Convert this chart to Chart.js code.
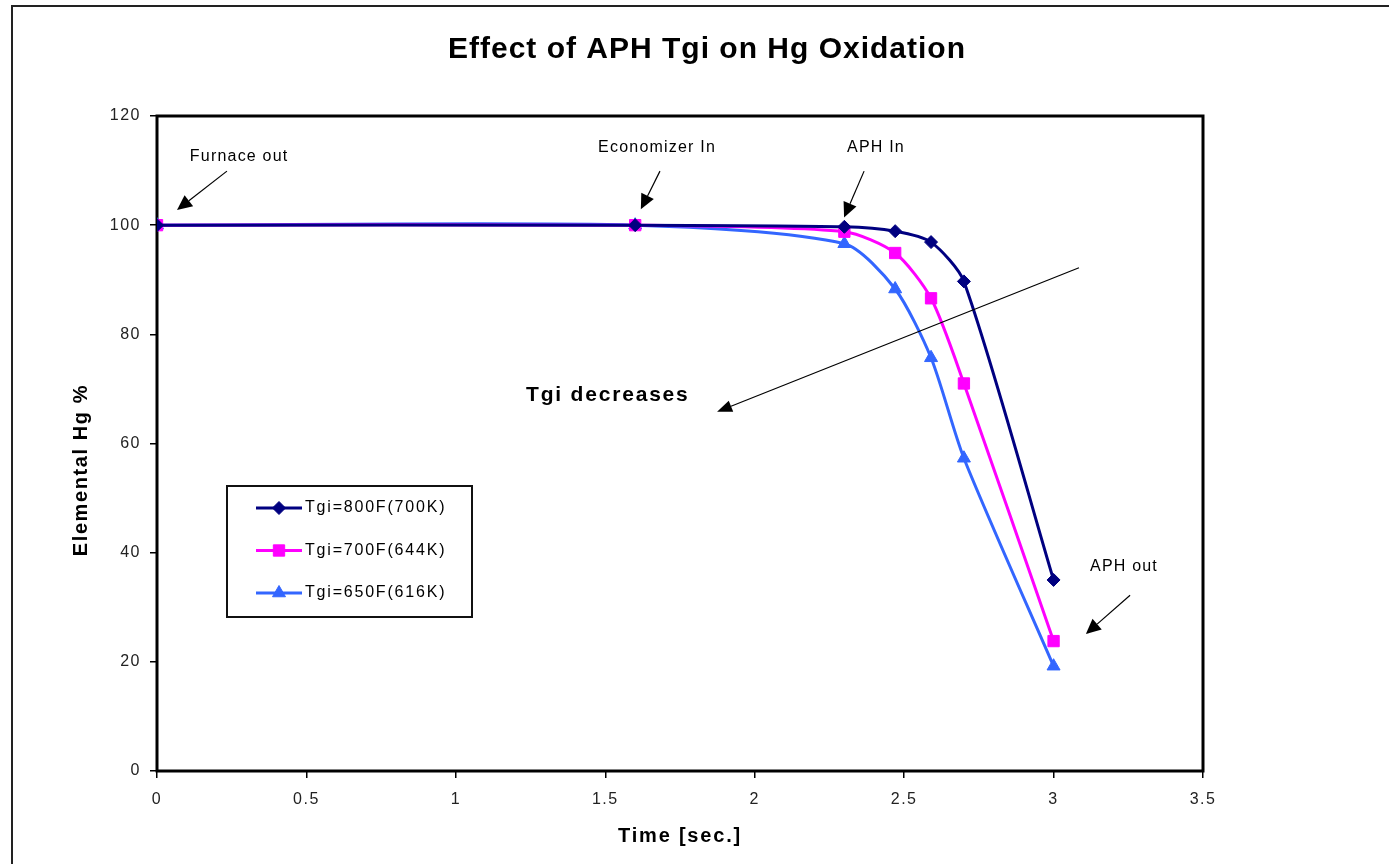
<!DOCTYPE html>
<html>
<head>
<meta charset="utf-8">
<title>Effect of APH Tgi on Hg Oxidation</title>
<script src="https://cdn.jsdelivr.net/npm/chart.js@4.4.1/dist/chart.umd.min.js"></script>
<style>
  body { margin: 0; background: #fff; }
  canvas { display: block; }
</style>
</head>
<body>
<canvas id="myChart" width="1389" height="864"></canvas>
<script>
// datos
const tiempos = [0, 1.6, 2.3, 2.47, 2.59, 2.7, 3.0];
const tgi800 = [100, 100, 99.7, 98.9, 96.9, 89.7, 35.0];
const tgi700 = [100, 100, 98.8, 94.9, 86.6, 71.0, 23.8];
const tgi650 = [100, 100, 96.6, 88.3, 75.7, 57.3, 19.2];
const nombres = ["Tgi=800F(700K)", "Tgi=700F(644K)", "Tgi=650F(616K)"];
const xTicks = [0, 0.5, 1, 1.5, 2, 2.5, 3, 3.5];
const yTicks = [0, 20, 40, 60, 80, 100, 120];

const FONT = "'Liberation Sans', Arial, sans-serif";

// notas con flecha (unidades de datos)
const notas = [
  { text: "Furnace out", x: 0.11, y: 112.5, from: [0.234, 109.9], to: [0.067, 102.8] },
  { text: "Economizer In", x: 1.476, y: 114.3, from: [1.683, 109.9], to: [1.619, 102.9] },
  { text: "APH In", x: 2.309, y: 114.3, from: [2.366, 109.9], to: [2.299, 101.4] },
  { text: "APH out", x: 3.122, y: 37.4, from: [3.256, 32.2], to: [3.108, 25.1] },
];

const toXY = (ys) => tiempos.map((t, i) => ({ x: t, y: ys[i] }));

const serie = (label, ys, color, style, radius) => ({
  label,
  data: toXY(ys),
  borderColor: color,
  backgroundColor: color,
  borderWidth: 3,
  pointStyle: style,
  pointRadius: radius,
  pointBorderWidth: 1,
  pointBackgroundColor: color,
  pointBorderColor: color,
  tension: 0.25,
});

const data = {
  datasets: [
    serie(nombres[0], tgi800, "#000080", "rectRot", 6.5),
    serie(nombres[1], tgi700, "#FF00FF", "rect", 8),
    serie(nombres[2], tgi650, "#3366FF", "triangle", 7.5),
  ],
};

const texto = (ctx, str, x, y, font, align, spacing) => {
  ctx.save();
  ctx.font = font;
  ctx.letterSpacing = spacing || "0px";
  ctx.fillStyle = "#000";
  ctx.textAlign = align || "left";
  ctx.textBaseline = "middle";
  ctx.fillText(str, x, y);
  ctx.restore();
};

const flecha = (ctx, x1, y1, x2, y2, len, half) => {
  const ang = Math.atan2(y2 - y1, x2 - x1);
  const bx = x2 - Math.cos(ang) * len;
  const by = y2 - Math.sin(ang) * len;
  ctx.save();
  ctx.strokeStyle = "#000";
  ctx.fillStyle = "#000";
  ctx.lineWidth = 1.2;
  ctx.beginPath();
  ctx.moveTo(x1, y1);
  ctx.lineTo(bx, by);
  ctx.stroke();
  ctx.beginPath();
  ctx.moveTo(x2, y2);
  ctx.lineTo(bx + Math.sin(ang) * half, by - Math.cos(ang) * half);
  ctx.lineTo(bx - Math.sin(ang) * half, by + Math.cos(ang) * half);
  ctx.closePath();
  ctx.fill();
  ctx.restore();
};

const extras = {
  id: "extras",
  beforeDraw(chart) {
    const ctx = chart.ctx;
    ctx.letterSpacing = "1.5px";
    // marco exterior
    ctx.save();
    ctx.strokeStyle = "#222";
    ctx.lineWidth = 2;
    ctx.strokeRect(12, 6, 1500, 1000);
    ctx.restore();
  },
  beforeDatasetsDraw(chart) {
    const { ctx, chartArea: ca } = chart;
    ctx.save();
    ctx.strokeStyle = "#000";
    ctx.lineWidth = 3;
    ctx.strokeRect(ca.left, ca.top, ca.width, ca.height);
    ctx.restore();
  },
  afterDraw(chart) {
    const { ctx, chartArea: ca, scales } = chart;
    const px = (v) => scales.x.getPixelForValue(v);
    const py = (v) => scales.y.getPixelForValue(v);

    texto(ctx, "Effect of APH Tgi on Hg Oxidation", 707, 50, "bold 30px " + FONT, "center", "1px");
    texto(ctx, "Time [sec.]", (ca.left + ca.right) / 2, 836, "bold 20px " + FONT, "center", "1.8px");

    ctx.save();
    ctx.translate(81, 470);
    ctx.rotate(-Math.PI / 2);
    texto(ctx, "Elemental Hg %", 0, 0, "bold 20px " + FONT, "center", "1.6px");
    ctx.restore();

    notas.forEach((n) => {
      texto(ctx, n.text, px(n.x), py(n.y), "16px " + FONT, "left", "1.2px");
      flecha(ctx, px(n.from[0]), py(n.from[1]), px(n.to[0]), py(n.to[1]), 15, 7);
    });

    texto(ctx, "Tgi decreases", px(1.235), py(68.9), "bold 21px " + FONT, "left", "1.8px");
    flecha(ctx, px(3.085), py(92.2), px(1.874), py(65.8), 15, 6);

    // leyenda
    ctx.save();
    ctx.fillStyle = "#fff";
    ctx.fillRect(227, 486, 245, 131);
    ctx.strokeStyle = "#111";
    ctx.lineWidth = 2;
    ctx.strokeRect(227, 486, 245, 131);
    ctx.restore();
    chart.data.datasets.forEach((ds, i) => {
      const y = 508 + i * 42.5;
      ctx.save();
      ctx.strokeStyle = ds.borderColor;
      ctx.lineWidth = 3;
      ctx.beginPath();
      ctx.moveTo(256, y);
      ctx.lineTo(302, y);
      ctx.stroke();
      ctx.fillStyle = ds.backgroundColor;
      ctx.strokeStyle = ds.borderColor;
      ctx.lineWidth = 1;
      Chart.helpers.drawPoint(ctx, { pointStyle: ds.pointStyle, radius: ds.pointRadius, rotation: 0, borderWidth: 1 }, 279, y);
      ctx.restore();
      texto(ctx, ds.label, 305, y, "16px " + FONT, "left", "1.8px");
    });
  },
};

const config = {
  type: "line",
  data,
  options: {
    responsive: false,
    animation: false,
    layout: { padding: { left: 0, right: 186, top: 116, bottom: 0 } },
    plugins: { legend: { display: false }, title: { display: false }, tooltip: { enabled: false } },
    scales: {
      x: {
        type: "linear",
        min: 0,
        max: 3.5,
        afterBuildTicks: (s) => { s.ticks = xTicks.map((v) => ({ value: v })); },
        afterFit: (s) => { s.height = 93; },
        border: { display: false },
        grid: { drawOnChartArea: false, drawTicks: true, tickLength: 7, color: "#000", lineWidth: 1.5 },
        ticks: { color: "#222", padding: 12, maxRotation: 0, font: { family: FONT, size: 16 }, callback: (v) => String(v) },
      },
      y: {
        min: 0,
        max: 120,
        afterBuildTicks: (s) => { s.ticks = yTicks.map((v) => ({ value: v })); },
        afterFit: (s) => { s.width = 157; },
        border: { display: false },
        grid: { drawOnChartArea: false, drawTicks: true, tickLength: 7, color: "#000", lineWidth: 1.5 },
        ticks: { color: "#222", padding: 9, font: { family: FONT, size: 16 }, callback: (v) => String(v) },
      },
    },
  },
  plugins: [extras],
};

var myChart = new Chart(document.getElementById("myChart"), config);
</script>
</body>
</html>
